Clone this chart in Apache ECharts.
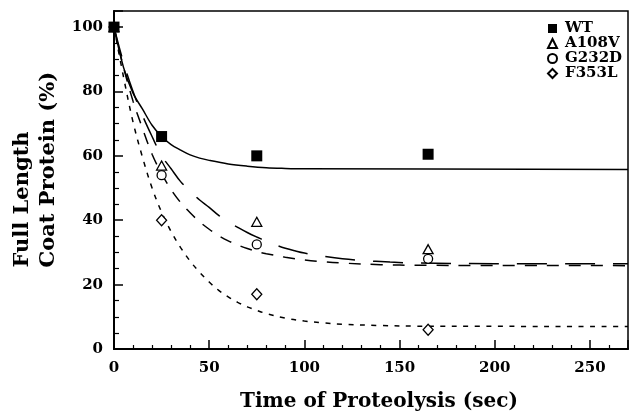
<!DOCTYPE html>
<html>
<head>
<meta charset="utf-8">
<script src="https://cdn.jsdelivr.net/npm/echarts@6/dist/echarts.min.js"></script>
</head>
<body style="margin:0;background:#fff">
<div id="chart" style="width:631px;height:417px;"></div>
<script>
// measured points (sec, % full length)
var timePts = [0, 25, 75, 165];
var wtPts = [100, 66, 60, 60.5];
var a108vPts = [100, 57, 39.5, 31];
var g232dPts = [100, 54, 32.5, 28];
var f353lPts = [100, 40, 17, 6];

// fitted curves
var wtFitX = [0, 5, 10, 15, 20, 25, 30, 35, 40, 45, 50, 60, 70, 80, 90, 100, 270];
var wtFitY = [100, 87.5, 79.5, 74.5, 69.5, 66, 63.5, 61.8, 60.3, 59.3, 58.6, 57.5, 56.8, 56.3, 56.1, 56, 55.8];
var a108vFitX = [0, 5, 10, 15, 20, 25, 30, 35, 40, 45, 50, 55, 60, 65, 70, 75, 80, 85, 90, 95, 100, 110, 120, 130, 145, 160, 200, 270];
var a108vFitY = [100, 89, 80, 72.5, 66, 60, 56, 52, 49, 46.3, 44, 41.5, 39.5, 37.8, 36.2, 34.8, 33.5, 32.3, 31.3, 30.5, 29.8, 28.8, 28, 27.5, 27, 26.7, 26.5, 26.5];
var g232dFitX = [0, 5, 10, 15, 20, 25, 30, 35, 40, 45, 50, 55, 60, 65, 70, 75, 80, 90, 100, 110, 120, 140, 160, 270];
var g232dFitY = [100, 87.5, 77, 68.5, 60.5, 54.5, 49.5, 45.5, 42.3, 39.5, 37.2, 35.2, 33.6, 32.3, 31.2, 30.3, 29.6, 28.5, 27.7, 27.1, 26.7, 26.2, 26, 25.9];
var f353lFitX = [0, 5, 10, 15, 20, 25, 30, 35, 40, 45, 50, 55, 60, 65, 70, 75, 80, 90, 100, 110, 120, 140, 160, 270];
var f353lFitY = [100, 84.5, 70.5, 59.5, 50, 42.5, 36.5, 31.5, 27.3, 23.8, 20.8, 18.2, 16.2, 14.5, 13.1, 12, 11, 9.6, 8.7, 8.1, 7.7, 7.3, 7.1, 7];

var xTickLabels = [0, 50, 100, 150, 200, 250];
var yTickLabels = [0, 20, 40, 60, 80, 100];

function pairs(xs, ys) {
    var out = [];
    for (var i = 0; i < xs.length; i++) out.push([xs[i], ys[i]]);
    return out;
}

var font = 'DejaVu Serif';
var chart = echarts.init(document.getElementById('chart'));

function fitLine(name, xs, ys, dash) {
    return {
        name: name,
        type: 'line',
        data: pairs(xs, ys),
        smooth: 0.35,
        showSymbol: false,
        silent: true,
        z: 2,
        lineStyle: { color: '#000', width: 1.5, type: dash }
    };
}

function pointSeries(name, ys, symbol, size, filled, z) {
    return {
        name: name,
        type: 'scatter',
        data: pairs(timePts, ys),
        symbol: symbol,
        symbolSize: size,
        z: z,
        itemStyle: filled
            ? { color: '#000', borderColor: '#000', borderWidth: 0, opacity: 1 }
            : { color: '#fff', borderColor: '#000', borderWidth: 1.3, opacity: 1 }
    };
}

var titleRich = {
    a: { fontFamily: font, fontWeight: 'bold', fontSize: 21, color: '#000', width: 205, align: 'left', lineHeight: 26 },
    b: { fontFamily: font, fontWeight: 'bold', fontSize: 21, color: '#000', width: 205, align: 'left', lineHeight: 26 }
};

var option = {
    animation: false,
    backgroundColor: '#fff',
    grid: {
        left: 114, right: -6, top: 11, bottom: 67,
        show: true, borderColor: '#000', borderWidth: 1.5
    },
    legend: {
        orient: 'vertical',
        left: 547,
        top: 21,
        padding: 0,
        itemWidth: 9,
        itemHeight: 9,
        itemGap: 0,
        textStyle: { fontFamily: font, fontWeight: 'bold', fontSize: 15, color: '#000', lineHeight: 14.7, padding: [0, 0, 0, 3] },
        data: [
            { name: 'WT', icon: 'rect' },
            { name: 'A108V', icon: 'triangle' },
            { name: 'G232D', icon: 'circle' },
            { name: 'F353L', icon: 'diamond' }
        ]
    },
    xAxis: {
        type: 'value',
        min: 0,
        max: 270,
        interval: 50,
        name: 'Time of Proteolysis (sec)',
        nameLocation: 'middle',
        nameGap: 43,
        nameTextStyle: { fontFamily: font, fontWeight: 'bold', fontSize: 20, color: '#000', padding: [0, 0, 0, 16] },
        axisLine: { lineStyle: { color: '#000', width: 2 } },
        axisTick: { inside: true, length: 9, lineStyle: { color: '#000', width: 1.5 } },
        minorTick: { show: true, splitNumber: 5, length: 4, lineStyle: { color: '#000', width: 1.2 } },
        splitLine: { show: false },
        axisLabel: {
            margin: 12,
            fontFamily: font, fontWeight: 'bold', fontSize: 15, color: '#000',
            formatter: function (v) { return xTickLabels.indexOf(v) >= 0 ? String(v) : ''; }
        }
    },
    yAxis: {
        type: 'value',
        min: 0,
        max: 105,
        interval: 20,
        name: '{a|Full Length}\n{b|Coat Protein (%)}',
        nameLocation: 'middle',
        nameGap: 52,
        nameTextStyle: { padding: [0, 0, 0, 30], rich: titleRich },
        axisLine: { lineStyle: { color: '#000', width: 2 } },
        axisTick: { inside: true, length: 9, lineStyle: { color: '#000', width: 1.5 } },
        minorTick: { show: true, splitNumber: 4, length: 5, lineStyle: { color: '#000', width: 1.2 } },
        splitLine: { show: false },
        axisLabel: {
            margin: 11,
            fontFamily: font, fontWeight: 'bold', fontSize: 15, color: '#000',
            formatter: function (v) { return yTickLabels.indexOf(v) >= 0 ? String(v) : ''; }
        }
    },
    series: [
        fitLine('WT fit', wtFitX, wtFitY, 'solid'),
        fitLine('A108V fit', a108vFitX, a108vFitY, [30, 18]),
        fitLine('G232D fit', g232dFitX, g232dFitY, [12, 10]),
        fitLine('F353L fit', f353lFitX, f353lFitY, [5, 6.5]),
        pointSeries('WT', wtPts, 'rect', 11, true, 6),
        pointSeries('A108V', a108vPts, 'triangle', [10, 9], false, 5),
        pointSeries('G232D', g232dPts, 'circle', 9, false, 5),
        pointSeries('F353L', f353lPts, 'diamond', [10, 11], false, 5)
    ]
};
chart.setOption(option);
</script>
</body>
</html>
